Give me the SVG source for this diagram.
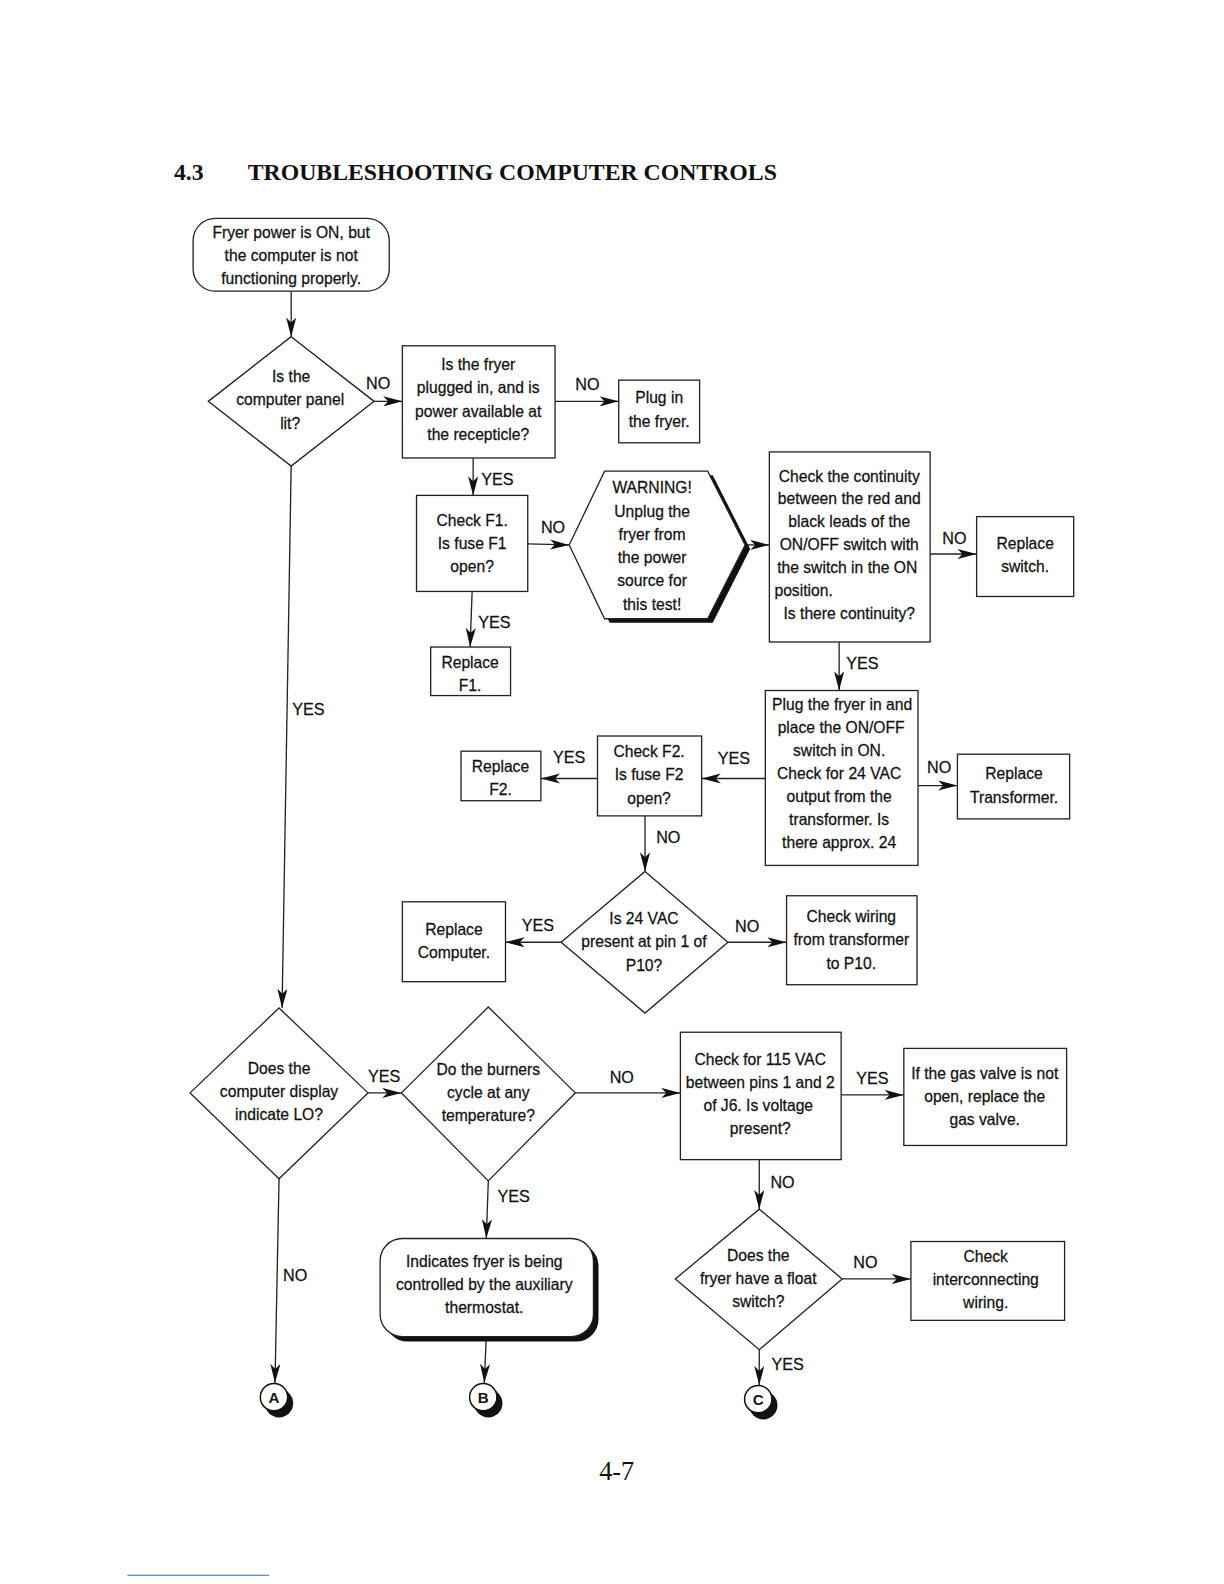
<svg xmlns="http://www.w3.org/2000/svg" width="1224" height="1584" viewBox="0 0 1224 1584">
<defs>
<marker id="ah" markerUnits="userSpaceOnUse" markerWidth="20" markerHeight="10" refX="19" refY="5" orient="auto">
<path d="M0,0 L19,5 L0,10 L5,5 z" fill="#111"/>
</marker>
</defs>
<style>
.box{fill:#fff;stroke:#222;stroke-width:1.3}
.t{font-family:"Liberation Sans",Arial,sans-serif;font-size:15.5px;text-anchor:middle;fill:#111;stroke:#111;stroke-width:0.25px}
.lb{font-family:"Liberation Sans",Arial,sans-serif;font-size:16px;text-anchor:middle;fill:#111;stroke:#111;stroke-width:0.25px}
.c{fill:none;stroke:#222;stroke-width:1.3;marker-end:url(#ah)}
.sh{fill:#111}
.cir{font-family:"Liberation Sans",Arial,sans-serif;font-size:15px;font-weight:bold;text-anchor:middle;fill:#111}
.st{text-anchor:start}
</style>
<rect width="1224" height="1584" fill="#fff"/>
<g transform="scale(1.011)">
<g id="title">
<text x="172" y="178" font-family="Liberation Serif,serif" font-size="23.5" font-weight="bold" fill="#111">4.3</text>
<text x="245" y="178" font-family="Liberation Serif,serif" font-size="23.5" font-weight="bold" fill="#111">TROUBLESHOOTING COMPUTER CONTROLS</text>
</g>

<g id="connectors">
<line class="c" x1="288" y1="288" x2="288" y2="333"/>
<line class="c" x1="370" y1="397" x2="398" y2="397"/>
<line class="c" x1="549" y1="397" x2="612" y2="397"/>
<line class="c" x1="468" y1="453" x2="468" y2="490"/>
<line class="c" x1="522" y1="538" x2="563" y2="539"/>
<line class="c" x1="737" y1="539" x2="761" y2="539"/>
<line class="c" x1="920" y1="548" x2="966" y2="548"/>
<line class="c" x1="830" y1="635" x2="830" y2="683"/>
<line class="c" x1="467" y1="585" x2="465" y2="640"/>
<line class="c" x1="908" y1="777" x2="947" y2="777"/>
<line class="c" x1="757" y1="770" x2="694" y2="770"/>
<line class="c" x1="591" y1="770" x2="535" y2="770"/>
<line class="c" x1="638" y1="807" x2="638" y2="862"/>
<line class="c" x1="555" y1="932" x2="500" y2="932"/>
<line class="c" x1="720" y1="932" x2="778" y2="932"/>
<line class="c" x1="288" y1="461" x2="279" y2="997"/>
<line class="c" x1="364" y1="1081" x2="397" y2="1081"/>
<line class="c" x1="569" y1="1081" x2="673" y2="1081"/>
<line class="c" x1="832" y1="1083" x2="894" y2="1083"/>
<line class="c" x1="751" y1="1147" x2="751" y2="1196"/>
<line class="c" x1="833" y1="1265" x2="901" y2="1265"/>
<line class="c" x1="751" y1="1335" x2="751" y2="1370"/>
<line class="c" x1="276" y1="1166" x2="272" y2="1368"/>
<line class="c" x1="483" y1="1168" x2="481" y2="1225"/>
<line class="c" x1="481" y1="1322" x2="479" y2="1368"/>
<text class="lb" x="374" y="385">NO</text>
<text class="lb" x="581" y="386">NO</text>
<text class="lb" x="492" y="480">YES</text>
<text class="lb" x="547" y="527">NO</text>
<text class="lb" x="944" y="538">NO</text>
<text class="lb" x="853" y="662">YES</text>
<text class="lb" x="489" y="621">YES</text>
<text class="lb" x="929" y="765">NO</text>
<text class="lb" x="726" y="756">YES</text>
<text class="lb" x="563" y="755">YES</text>
<text class="lb" x="661" y="834">NO</text>
<text class="lb" x="532" y="921">YES</text>
<text class="lb" x="739" y="922">NO</text>
<text class="lb" x="305" y="707">YES</text>
<text class="lb" x="380" y="1070">YES</text>
<text class="lb" x="615" y="1071">NO</text>
<text class="lb" x="863" y="1072">YES</text>
<text class="lb" x="774" y="1175">NO</text>
<text class="lb" x="856" y="1254">NO</text>
<text class="lb" x="779" y="1355">YES</text>
<text class="lb" x="292" y="1267">NO</text>
<text class="lb" x="508" y="1189">YES</text>
</g>

<g id="start">
<rect class="box" x="191" y="216" width="194" height="72" rx="22"/>
<text class="t" x="288" y="235">Fryer power is ON, but</text>
<text class="t" x="288" y="258">the computer is not</text>
<text class="t" x="288" y="281">functioning properly.</text>
</g>
<g id="panel-lit">
<polygon class="box" points="288,333 370,397 288,461 206,397"/>
<text class="t" x="288" y="378">Is the</text>
<text class="t" x="287" y="401">computer panel</text>
<text class="t" x="287" y="424">lit?</text>
</g>
<g id="plugged-in">
<rect class="box" x="398" y="342" width="151" height="111"/>
<text class="t" x="473" y="366">Is the fryer</text>
<text class="t" x="473" y="389">plugged in, and is</text>
<text class="t" x="473" y="412">power available at</text>
<text class="t" x="473" y="435">the recepticle?</text>
</g>
<g id="plug-in">
<rect class="box" x="612" y="376" width="80" height="62"/>
<text class="t" x="652" y="399">Plug in</text>
<text class="t" x="652" y="422">the fryer.</text>
</g>
<g id="check-f1">
<rect class="box" x="412" y="490" width="110" height="95"/>
<text class="t" x="467" y="520">Check F1.</text>
<text class="t" x="467" y="543">Is fuse F1</text>
<text class="t" x="467" y="566">open?</text>
</g>
<g id="warning">
<polygon class="sh" points="568,543 603,470 705,470 742,543 705,616 603,616"/>
<polygon class="box" points="563,539 598,466 700,466 737,539 700,612 598,612"/>
<text class="t" x="645" y="488">WARNING!</text>
<text class="t" x="645" y="511">Unplug the</text>
<text class="t" x="645" y="534">fryer from</text>
<text class="t" x="645" y="557">the power</text>
<text class="t" x="645" y="580">source for</text>
<text class="t" x="645" y="603">this test!</text>
</g>
<g id="continuity">
<rect class="box" x="761" y="447" width="159" height="188"/>
<text class="t" x="840" y="477">Check the continuity</text>
<text class="t" x="840" y="499">between the red and</text>
<text class="t" x="840" y="521">black leads of the</text>
<text class="t" x="840" y="544">ON/OFF switch with</text>
<text class="t" x="838" y="567">the switch in the ON</text>
<text class="t st" x="766" y="590">position.</text>
<text class="t" x="840" y="612">Is there continuity?</text>
</g>
<g id="replace-switch">
<rect class="box" x="966" y="511" width="96" height="79"/>
<text class="t" x="1014" y="543">Replace</text>
<text class="t" x="1014" y="566">switch.</text>
</g>
<g id="replace-f1">
<rect class="box" x="426" y="640" width="79" height="48"/>
<text class="t" x="465" y="661">Replace</text>
<text class="t" x="465" y="683">F1.</text>
</g>
<g id="plug-fryer-check">
<rect class="box" x="757" y="683" width="151" height="173"/>
<text class="t" x="833" y="702">Plug the fryer in and</text>
<text class="t" x="832" y="725">place the ON/OFF</text>
<text class="t" x="830" y="748">switch in ON.</text>
<text class="t" x="830" y="771">Check for 24 VAC</text>
<text class="t" x="830" y="793">output from the</text>
<text class="t" x="830" y="816">transformer.   Is</text>
<text class="t" x="830" y="839">there approx. 24</text>
</g>
<g id="replace-transformer">
<rect class="box" x="947" y="746" width="111" height="64"/>
<text class="t" x="1003" y="771">Replace</text>
<text class="t" x="1003" y="794">Transformer.</text>
</g>
<g id="check-f2">
<rect class="box" x="591" y="728" width="103" height="79"/>
<text class="t" x="642" y="749">Check F2.</text>
<text class="t" x="642" y="772">Is fuse F2</text>
<text class="t" x="642" y="795">open?</text>
</g>
<g id="replace-f2">
<rect class="box" x="456" y="743" width="79" height="49"/>
<text class="t" x="495" y="764">Replace</text>
<text class="t" x="495" y="786">F2.</text>
</g>
<g id="vac24">
<polygon class="box" points="638,862 720,932 638,1002 555,932"/>
<text class="t" x="637" y="914">Is 24 VAC</text>
<text class="t" x="637" y="937">present at pin 1 of</text>
<text class="t" x="637" y="960">P10?</text>
</g>
<g id="replace-computer">
<rect class="box" x="398" y="892" width="102" height="79"/>
<text class="t" x="449" y="925">Replace</text>
<text class="t" x="449" y="948">Computer.</text>
</g>
<g id="check-wiring">
<rect class="box" x="778" y="886" width="129" height="88"/>
<text class="t" x="842" y="912">Check wiring</text>
<text class="t" x="842" y="935">from transformer</text>
<text class="t" x="842" y="958">to P10.</text>
</g>
<g id="display-lo">
<polygon class="box" points="276,997 364,1081 276,1166 188,1081"/>
<text class="t" x="276" y="1062">Does the</text>
<text class="t" x="276" y="1085">computer display</text>
<text class="t" x="276" y="1108">indicate LO?</text>
</g>
<g id="burners">
<polygon class="box" points="483,996 569,1081 483,1168 397,1081"/>
<text class="t" x="483" y="1063">Do the burners</text>
<text class="t" x="483" y="1086">cycle at any</text>
<text class="t" x="483" y="1109">temperature?</text>
</g>
<g id="vac115">
<rect class="box" x="673" y="1021" width="159" height="126"/>
<text class="t" x="752" y="1053">Check for 115 VAC</text>
<text class="t" x="752" y="1076">between pins 1 and 2</text>
<text class="t" x="750" y="1099">of J6.  Is voltage</text>
<text class="t" x="752" y="1122">present?</text>
</g>
<g id="gas-valve">
<rect class="box" x="894" y="1037" width="161" height="96"/>
<text class="t" x="974" y="1067">If the gas valve is not</text>
<text class="t" x="974" y="1090">open, replace the</text>
<text class="t" x="974" y="1113">gas valve.</text>
</g>
<g id="float-switch">
<polygon class="box" points="751,1196 833,1265 751,1335 668,1265"/>
<text class="t" x="750" y="1247">Does the</text>
<text class="t" x="750" y="1270">fryer have a float</text>
<text class="t" x="750" y="1293">switch?</text>
</g>
<g id="interconnect">
<rect class="box" x="901" y="1228" width="152" height="78"/>
<text class="t" x="975" y="1248">Check</text>
<text class="t" x="975" y="1271">interconnecting</text>
<text class="t" x="975" y="1294">wiring.</text>
</g>
<g id="aux-thermostat">
<rect class="sh" x="381" y="1230" width="211" height="97" rx="22"/>
<rect class="box" x="376" y="1225" width="211" height="97" rx="22"/>
<text class="t" x="479" y="1253">Indicates fryer is being</text>
<text class="t" x="479" y="1276">controlled by the auxiliary</text>
<text class="t" x="479" y="1299">thermostat.</text>
</g>
<g id="conn-a">
<circle class="sh" cx="276" cy="1388" r="14"/>
<circle cx="271" cy="1382" r="13.5" fill="#fff" stroke="#111" stroke-width="1.5"/>
<text class="cir" x="271" y="1387.5">A</text>
</g>
<g id="conn-b">
<circle class="sh" cx="483" cy="1388" r="14"/>
<circle cx="478" cy="1382" r="13.5" fill="#fff" stroke="#111" stroke-width="1.5"/>
<text class="cir" x="478" y="1387.5">B</text>
</g>
<g id="conn-c">
<circle class="sh" cx="755" cy="1390" r="14"/>
<circle cx="750" cy="1384" r="13.5" fill="#fff" stroke="#111" stroke-width="1.5"/>
<text class="cir" x="750" y="1389.5">C</text>
</g>
<text x="610" y="1464" font-family="Liberation Serif,serif" font-size="26" text-anchor="middle" fill="#111">4-7</text>
<line x1="126" y1="1558" x2="266" y2="1558" stroke="#3b5bd6" stroke-width="1"/>
</g>
</svg>
